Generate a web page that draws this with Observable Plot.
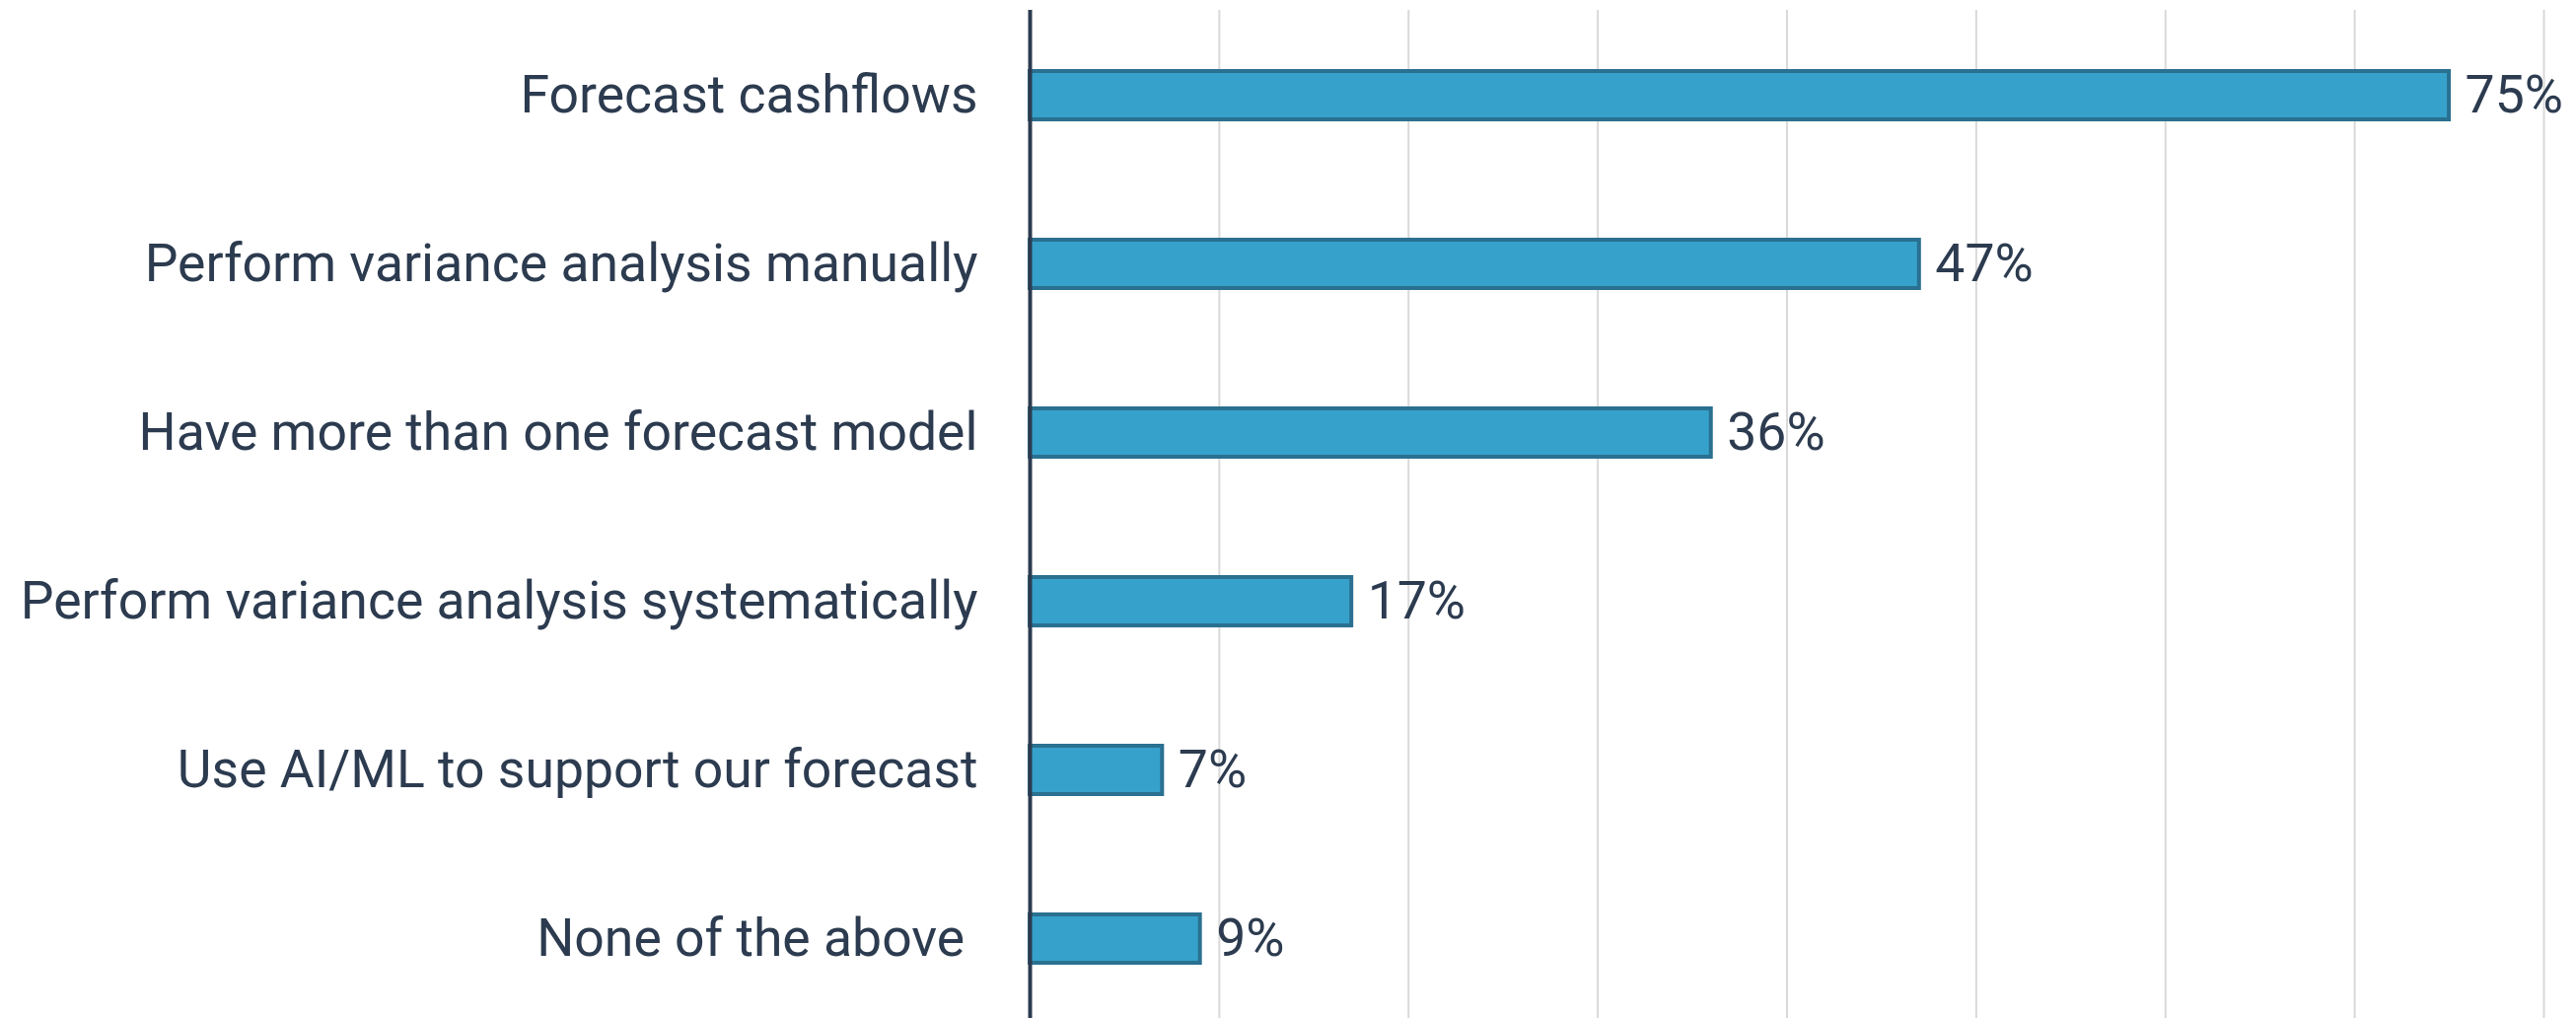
<!DOCTYPE html>
<html><head><meta charset="utf-8">
<script src="https://cdn.jsdelivr.net/npm/d3@7"></script>
<script src="https://cdn.jsdelivr.net/npm/@observablehq/plot@0.6"></script>
<style>
html,body{margin:0;padding:0;background:#fff;}
svg text{white-space:pre;}
</style></head><body><div id="chart"></div>
<script>
const categories = [
  "Forecast cashflows",
  "Perform variance analysis manually",
  "Have more than one forecast model",
  "Perform variance analysis systematically",
  "Use AI/ML to support our forecast",
  "None of the above "
];
const values = [0.75, 0.47, 0.36, 0.17, 0.07, 0.09];
const valueLabels = ["75%", "47%", "36%", "17%", "7%", "9%"];
const gridTicks = [0.1, 0.2, 0.3, 0.4, 0.5, 0.6, 0.7, 0.8];

const data = categories.map((c, i) => ({category: c, value: values[i], label: valueLabels[i]}));
const ink = "#2c3b4f";
const chart = Plot.plot({
  width: 2612, height: 1032,
  marginLeft: 1044, marginRight: 33, marginTop: 10, marginBottom: 0,
  style: {fontFamily: "Roboto", fontSize: "53.5px", color: ink, background: "#fff", overflow: "visible"},
  x: {domain: [0, 0.8], axis: null},
  y: {domain: categories, range: [10, 1038], padding: 0, axis: null},
  marks: [
    Plot.ruleX(gridTicks, {stroke: "#d9d9d9", strokeWidth: 2}),
    Plot.barX(data, {x: "value", y: "category", fill: "#36a2cb", stroke: "#2a7090", strokeWidth: 4, insetTop: 61, insetBottom: 61}),
    Plot.ruleX([0], {stroke: ink, strokeWidth: 4}),
    Plot.text(data, {x: "value", y: "category", text: "label", textAnchor: "start", dx: 16, fontSize: 53.5, fill: ink}),
    Plot.axisY({tickSize: 0, tickPadding: 53, fontSize: 53.5, label: null})
  ]
});
document.getElementById("chart").appendChild(chart);
</script></body></html>
